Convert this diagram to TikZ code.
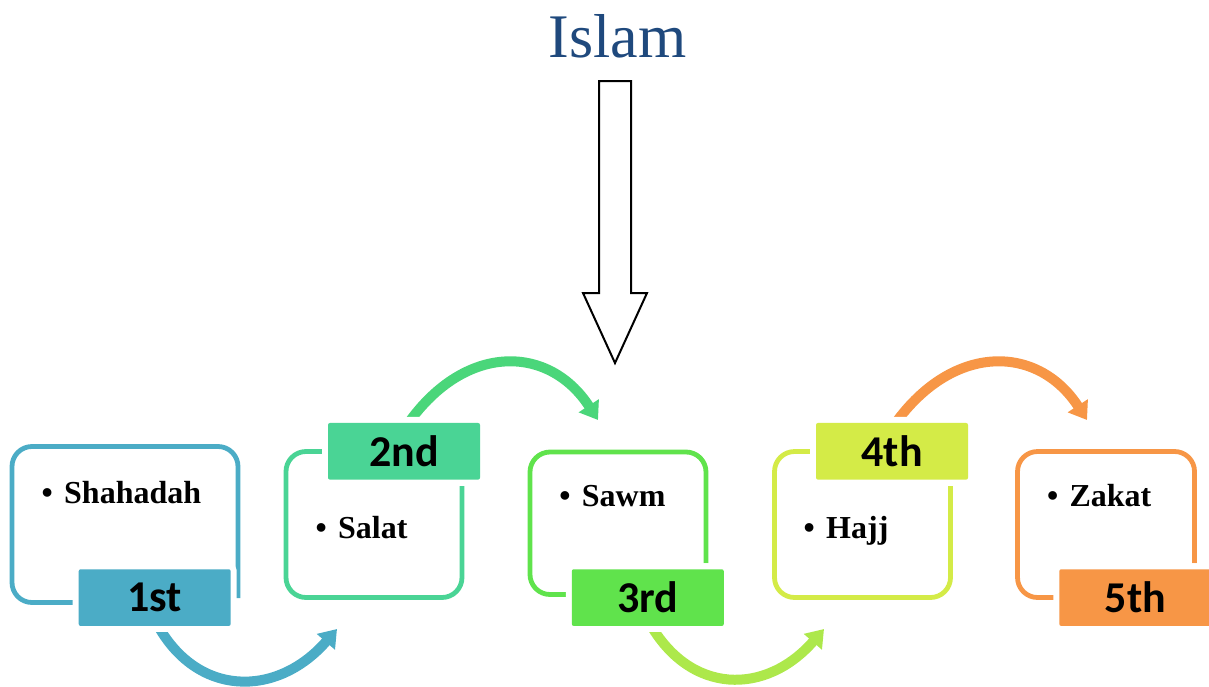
\documentclass[tikz,border=0pt]{standalone}
\usepackage{fontspec}
\setmainfont{Liberation Serif}
\newfontfamily\tagfont{Carlito}
\usetikzlibrary{arrows.meta}

\definecolor{blueA}{HTML}{4BACC6}
\definecolor{greenA}{HTML}{4AD495}
\definecolor{greenB}{HTML}{60E34C}
\definecolor{limeA}{HTML}{D4EB47}
\definecolor{orangeA}{HTML}{F79646}
\definecolor{arcB}{HTML}{4AD67A}
\definecolor{arcC}{HTML}{ADE84B}
\definecolor{titleblue}{HTML}{1F497D}

\tikzset{
  frame/.style={line width=4.8pt, rounded corners=20pt},
  tag/.style={minimum width=152pt, minimum height=56.7pt, inner sep=0pt,
    rounded corners=2pt, text=black,
    font=\tagfont\bfseries\fontsize{44}{44}\selectfont,
    preaction={draw=white, line width=12pt}},
  item/.style={anchor=base west, inner sep=0pt,
    font=\bfseries\fontsize{32}{36}\selectfont},
  flow/.style={line width=10pt, -{Triangle[length=17pt,width=23pt]}},
}
\newcommand{\itm}[1]{\makebox[22.5pt][l]{\textbullet}#1}

\begin{document}
\begin{tikzpicture}[x=1pt,y=-1pt]
\useasboundingbox (0,0) rectangle (1209,686);

% title and the hollow block arrow beneath it
\node[anchor=base, text=titleblue, inner sep=0pt,
      font=\fontsize{62}{62}\selectfont] (title) at (617.5,57) {Islam};
\draw[line width=2pt, fill=white, miter limit=10]
  (599,81) -- (631,81) -- (631,293) -- (647,293) -- (615,363)
  -- (583,293) -- (599,293) -- cycle;

% open rounded frames, each broken where its tag sits
\draw[frame, blueA]   (73,602.5) -- (12,602.5) -- (12,446.5) -- (238,446.5) -- (238,598);
\draw[frame, greenA]  (322,451.5) -- (286,451.5) -- (286,597.5) -- (462,597.5) -- (462,486);
\draw[frame, greenB]  (567,594.5) -- (530,594.5) -- (530,452) -- (706,452) -- (706,563);
\draw[frame, limeA]   (810,451.5) -- (774.5,451.5) -- (774.5,597.5) -- (950.5,597.5) -- (950.5,486);
\draw[frame, orangeA] (1054,597.5) -- (1017.5,597.5) -- (1017.5,451.5) -- (1194.5,451.5) -- (1194.5,563);

% curved connectors start beneath the tags
\coordinate (s1) at (156,622);   \coordinate (e1) at (337,629);
\coordinate (s2) at (405,428);   \coordinate (e2) at (598,420);
\coordinate (s3) at (649,622);   \coordinate (e3) at (824,629);
\coordinate (s4) at (892,428);   \coordinate (e4) at (1087,420);

\draw[flow, blueA]   (s1) .. controls (196,698) and (277,698) .. (e1);
\draw[flow, arcB]    (s2) .. controls (462,343) and (548,343) .. (e2);
\draw[flow, arcC]    (s3) .. controls (690,695.5) and (766,695.5) .. (e3);
\draw[flow, orangeA] (s4) .. controls (950,343) and (1037,343) .. (e4);

% step tags
\node[tag, fill=blueA]   (t1) at (154.7,597.6)  {1st};
\node[tag, fill=greenA]  (t2) at (404,451.3)    {2nd};
\node[tag, fill=greenB]  (t3) at (647.8,597.6)  {3rd};
\node[tag, fill=limeA]   (t4) at (892,451.3)    {4th};
\node[tag, fill=orangeA] (t5) at (1135.3,597.6) {5th};

% bulleted entries
\node[item] (p1) at (41.5,503)   {\itm{Shahadah}};
\node[item] (p2) at (315.5,538.3) {\itm{Salat}};
\node[item] (p3) at (559.2,506.7) {\itm{Sawm}};
\node[item] (p4) at (803.5,538.3) {\itm{Hajj}};
\node[item] (p5) at (1046.8,506.7) {\itm{Zakat}};
\end{tikzpicture}
\end{document}
